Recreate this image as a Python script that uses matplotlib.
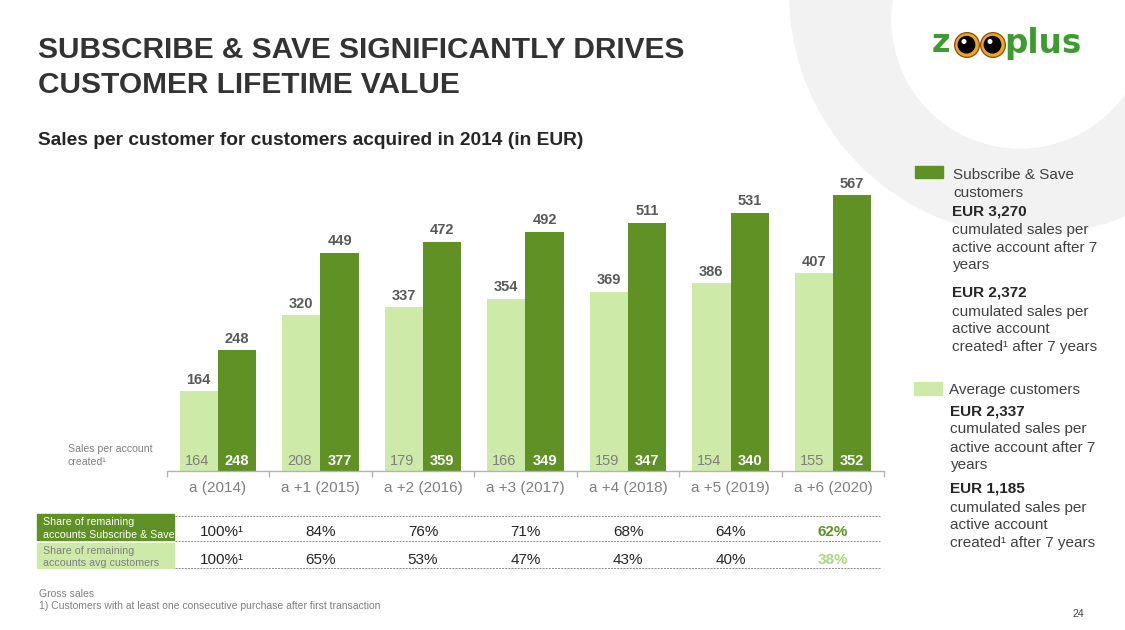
import matplotlib
matplotlib.use("Agg")
import matplotlib.pyplot as plt
from matplotlib.patches import Circle, Rectangle
from matplotlib.transforms import blended_transform_factory

# ---------------- data ----------------
categories = ['a (2014)', 'a +1 (2015)', 'a +2 (2016)', 'a +3 (2017)',
              'a +4 (2018)', 'a +5 (2019)', 'a +6 (2020)']
avg_active = [164, 320, 337, 354, 369, 386, 407]
sns_active = [248, 449, 472, 492, 511, 531, 567]
avg_created = [164, 208, 179, 166, 159, 154, 155]
sns_created = [248, 377, 359, 349, 347, 340, 352]
share_sns = ['100%¹', '84%', '76%', '71%', '68%', '64%', '62%']
share_avg = ['100%¹', '65%', '53%', '47%', '43%', '40%', '38%']

DARK = '#609124'
LIGHT = '#cdeaa9'
FONT = 'Liberation Sans'
plt.rcParams['font.family'] = [FONT, 'DejaVu Sans']

W, H = 1125, 630
fig = plt.figure(figsize=(W / 100, H / 100), dpi=100)

# background / pixel-coordinate axes
bg = fig.add_axes([0, 0, 1, 1], zorder=0)
bg.set_xlim(0, W)
bg.set_ylim(H, 0)
bg.axis('off')

bg.add_patch(Circle((1030, -5), 240, color='#f2f2f2', zorder=0))
bg.add_patch(Circle((1020, 20), 128, color='white', zorder=0))

# logo
LOGO = '#3d9b2f'
bg.text(932, 52.5, 'z', fontsize=23, weight='bold', family='DejaVu Sans',
        color=LOGO, va='baseline', ha='left', zorder=3)
bg.text(1004, 52.5, 'plus', fontsize=23.5, weight='bold', family='DejaVu Sans',
        color=LOGO, va='baseline', ha='left', zorder=3)
for cx in (967, 993):
    bg.add_patch(Circle((cx, 45), 12.3, color='#8a5200', zorder=3))
    bg.add_patch(Circle((cx, 45), 11.0, color='#f0a526', zorder=3))
    bg.add_patch(Circle((cx - 0.5, 44.7), 8.2, color='black', zorder=4))
    bg.add_patch(Circle((cx - 3, 41.5), 1.8, color='white', zorder=5))

# titles
TITLE_C = '#333333'
bg.text(38, 58.3, 'SUBSCRIBE & SAVE SIGNIFICANTLY DRIVES', fontsize=21.5,
        weight='bold', color=TITLE_C, va='baseline', ha='left')
bg.text(38, 92.7, 'CUSTOMER LIFETIME VALUE', fontsize=21.5,
        weight='bold', color=TITLE_C, va='baseline', ha='left')
bg.text(38, 145, 'Sales per customer for customers acquired in 2014 (in EUR)',
        fontsize=13.75, weight='bold', color='#262626', va='baseline', ha='left')

# legend / side notes
TXT = '#404040'
bg.add_patch(Rectangle((915, 165.7), 27.7, 12.6, color=DARK, zorder=2))
bg.add_patch(Rectangle((914, 382.3), 27.7, 12.7, color=LIGHT, zorder=2))
side = [
    (953, 179.0, 'Subscribe & Save', False),
    (953, 196.7, 'customers', False),
    (952.5, 215.7, 'EUR 3,270', True),
    (952.5, 234.0, 'cumulated sales per', False),
    (952.5, 252.3, 'active account after 7', False),
    (952.5, 269.5, 'years', False),
    (952.5, 296.7, 'EUR 2,372', True),
    (952.5, 315.7, 'cumulated sales per', False),
    (952.5, 333.3, 'active account', False),
    (952.5, 350.7, 'created¹ after 7 years', False),
    (949, 394.3, 'Average customers', False),
    (950.5, 415.0, 'EUR 2,337', True),
    (950.5, 433.3, 'cumulated sales per', False),
    (950.5, 451.7, 'active account after 7', False),
    (950.5, 468.5, 'years', False),
    (950.5, 492.7, 'EUR 1,185', True),
    (950.5, 511.7, 'cumulated sales per', False),
    (950.5, 529.0, 'active account', False),
    (950.5, 546.7, 'created¹ after 7 years', False),
]
for x, y, s, b in side:
    bg.text(x, y, s, fontsize=11, weight='bold' if b else 'normal',
            color='#262626' if b else TXT, va='baseline', ha='left')

# side label of bottom values
bg.text(67.7, 452.3, 'Sales per account', fontsize=7.6, color='#7f7f7f',
        va='baseline', ha='left')
bg.text(67.7, 465, 'created¹', fontsize=7.6, color='#7f7f7f',
        va='baseline', ha='left')

# footnotes
bg.text(39, 596.7, 'Gross sales', fontsize=7.5, color='#7f7f7f',
        va='baseline', ha='left')
bg.text(39, 609, '1) Customers with at least one consecutive purchase after first transaction',
        fontsize=7.5, color='#7f7f7f', va='baseline', ha='left')
bg.text(1078, 617, '24', fontsize=7.6, color=TXT, va='baseline', ha='center')

# ---------------- chart ----------------
x0, x1, y0 = 166.7, 884.3, 471.0
scale = 0.486
ymax = 600
ax = fig.add_axes([x0 / W, (H - y0) / H, (x1 - x0) / W, ymax * scale / H], zorder=1)
ax.patch.set_alpha(0)
n = len(categories)
xs = list(range(n))
bw = 0.374
ax.bar([i - bw / 2 for i in xs], avg_active, width=bw, color=LIGHT, zorder=2)
ax.bar([i + bw / 2 for i in xs], sns_active, width=bw, color=DARK, zorder=2)
ax.set_xlim(-0.5, n - 0.5)
ax.set_ylim(0, ymax)
for s in ('top', 'right', 'left'):
    ax.spines[s].set_visible(False)
ax.spines['bottom'].set_color('#b3b3b3')
ax.spines['bottom'].set_linewidth(1.0)
ax.set_yticks([])
ax.set_xticks(xs)
ax.set_xticklabels([])
ax.tick_params(axis='x', which='major', length=0)
ax.set_xticks([i - 0.5 for i in range(n + 1)], minor=True)
ax.tick_params(axis='x', which='minor', length=4, color='#b3b3b3', width=1.0,
               direction='out')

for i in xs:
    xl, xd = i - bw / 2, i + bw / 2
    ax.annotate(str(avg_active[i]), (xl, avg_active[i]), xytext=(0, 5.4),
                textcoords='offset points', ha='center', va='baseline',
                fontsize=10.5, weight='bold', color='#595959')
    ax.annotate(str(sns_active[i]), (xd, sns_active[i]), xytext=(0, 5.4),
                textcoords='offset points', ha='center', va='baseline',
                fontsize=10.5, weight='bold', color='#595959')
    ax.annotate(str(avg_created[i]), (xl, 0), xytext=(-1.5, 4.3),
                textcoords='offset points', ha='center', va='baseline',
                fontsize=10.5, color='#7f7f7f', zorder=3)
    ax.annotate(str(sns_created[i]), (xd, 0), xytext=(0, 4.3),
                textcoords='offset points', ha='center', va='baseline',
                fontsize=10.5, weight='bold', color='white', zorder=3)
    ax.annotate(categories[i], (i, 0), xytext=(0, -15.1),
                textcoords='offset points', ha='center', va='baseline',
                fontsize=11, color='#7f7f7f', annotation_clip=False)

# ---------------- table ----------------
bg.add_patch(Rectangle((36.7, 514.3), 137.3, 25.7, color=DARK, zorder=2))
bg.add_patch(Rectangle((36.7, 543.3), 137.3, 25.0, color=LIGHT, zorder=2))
bg.text(42.7, 525, 'Share of remaining', fontsize=7.7, color='white',
        va='baseline', ha='left', zorder=3)
bg.text(42.7, 537.7, 'accounts Subscribe & Save', fontsize=7.7, color='white',
        va='baseline', ha='left', zorder=3)
bg.text(42.7, 554, 'Share of remaining', fontsize=7.7, color='#808080',
        va='baseline', ha='left', zorder=3)
bg.text(42.7, 566.3, 'accounts avg customers', fontsize=7.7, color='#808080',
        va='baseline', ha='left', zorder=3)
for yy in (515.7, 540.7, 568.0):
    bg.plot([175, 880], [yy, yy], color='#8c8c8c', lw=0.7,
            linestyle=(0, (2, 1.2)), zorder=2)

tr = blended_transform_factory(ax.transData, bg.transData)
for i in xs:
    last = (i == n - 1)
    dx = 0.04 if i == 0 else 0
    ax.text(i + dx, 536.5, share_sns[i], transform=tr, ha='center', va='baseline',
            fontsize=11, color=DARK if last else '#262626',
            weight='bold' if last else 'normal', clip_on=False)
    ax.text(i + dx, 564, share_avg[i], transform=tr, ha='center', va='baseline',
            fontsize=11, color='#a8d882' if last else '#262626',
            weight='bold' if last else 'normal', clip_on=False)

fig.savefig('out.png', dpi=100)
